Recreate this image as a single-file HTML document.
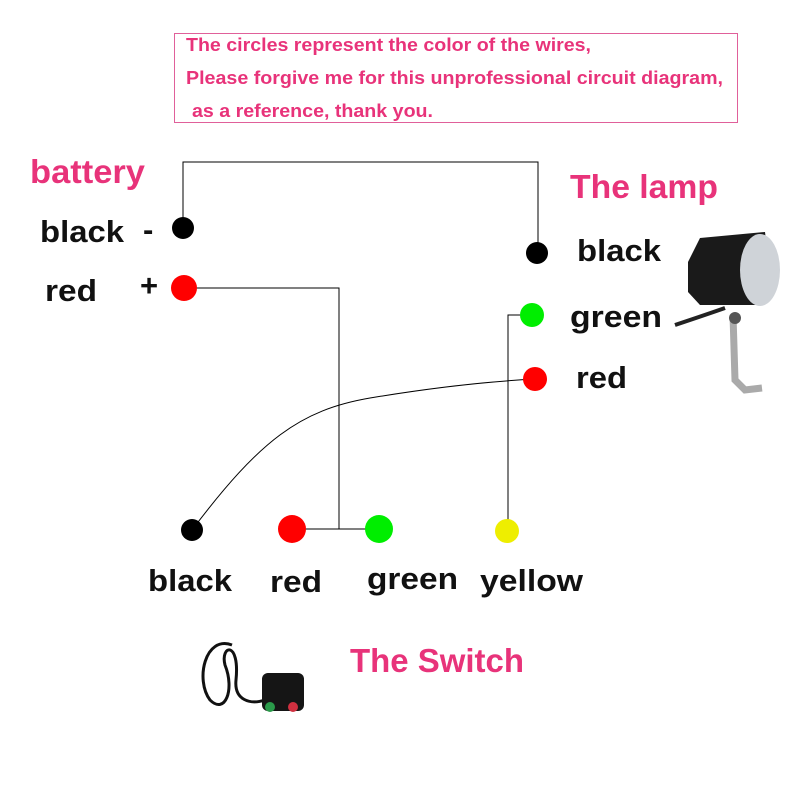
<!DOCTYPE html>
<html><head><meta charset="utf-8"><style>
html,body{margin:0;padding:0;background:#fff;}
svg{display:block}
text{font-family:"Liberation Sans",sans-serif;font-weight:bold;}
</style></head><body>
<svg width="800" height="800" viewBox="0 0 800 800" xmlns="http://www.w3.org/2000/svg">
<rect width="800" height="800" fill="#fff"/>
<rect x="174.5" y="33.5" width="563" height="89" fill="none" stroke="#e0609a" stroke-width="1"/>
<g fill="#e8337a" font-size="18">
<text x="186" y="51" textLength="405" lengthAdjust="spacingAndGlyphs">The circles represent the color of the wires,</text>
<text x="186" y="84" textLength="537" lengthAdjust="spacingAndGlyphs">Please forgive me for this unprofessional circuit diagram,</text>
<text x="192" y="117" textLength="241" lengthAdjust="spacingAndGlyphs">as a reference, thank you.</text>
</g>
<g fill="#e8337a" font-size="33">
<text x="30" y="183" textLength="115" lengthAdjust="spacingAndGlyphs">battery</text>
<text x="570" y="198" textLength="148" lengthAdjust="spacingAndGlyphs">The lamp</text>
<text x="350" y="672" textLength="174" lengthAdjust="spacingAndGlyphs">The Switch</text>
</g>
<g fill="#111" font-size="31">
<text x="40" y="242" textLength="84" lengthAdjust="spacingAndGlyphs">black</text>
<text x="143" y="240">-</text>
<text x="45" y="301" textLength="52" lengthAdjust="spacingAndGlyphs">red</text>
<text x="140" y="296">+</text>
<text x="577" y="261" textLength="84" lengthAdjust="spacingAndGlyphs">black</text>
<text x="570" y="327" textLength="92" lengthAdjust="spacingAndGlyphs">green</text>
<text x="576" y="388" textLength="51" lengthAdjust="spacingAndGlyphs">red</text>
<text x="148" y="591" textLength="84" lengthAdjust="spacingAndGlyphs">black</text>
<text x="270" y="592" textLength="52" lengthAdjust="spacingAndGlyphs">red</text>
<text x="367" y="589" textLength="91" lengthAdjust="spacingAndGlyphs">green</text>
<text x="480" y="591" textLength="103" lengthAdjust="spacingAndGlyphs">yellow</text>
</g>
<g fill="none" stroke="#000" stroke-width="1">
<polyline points="183,228 183,162 538,162 538,253"/>
<polyline points="184,288 339,288 339,529 378,529"/>
<line x1="292" y1="529" x2="339" y2="529"/>
<polyline points="532,315 508,315 508,530"/>
<path d="M192,530 C260,440 300,410 370,398 C430,388 480,382 535,379"/>
</g>
<circle cx="183" cy="228" r="11" fill="#000"/>
<circle cx="184" cy="288" r="13" fill="#f00"/>
<circle cx="537" cy="253" r="11" fill="#000"/>
<circle cx="532" cy="315" r="12" fill="#0e0"/>
<circle cx="535" cy="379" r="12" fill="#f00"/>
<circle cx="192" cy="530" r="11" fill="#000"/>
<circle cx="292" cy="529" r="14" fill="#f00"/>
<circle cx="379" cy="529" r="14" fill="#0e0"/>
<circle cx="507" cy="531" r="12" fill="#ee0"/>
<!-- lamp -->
<path d="M675,325 C690,320 705,315 725,308" stroke="#222" stroke-width="4" fill="none"/>
<path d="M733,315 L735,380 L745,390 L762,388" stroke="#aaa" stroke-width="7" fill="none"/>
<path d="M688,262 L700,238 L765,232 L772,290 L760,305 L700,305 L688,292 Z" fill="#1a1a1a"/>
<ellipse cx="760" cy="270" rx="20" ry="36" fill="#cfd3d8"/>
<circle cx="735" cy="318" r="6" fill="#555"/>
<!-- switch -->
<path d="M232,645 C205,635 195,680 210,700 C225,715 235,690 225,665 C220,645 240,640 236,680 C234,700 250,705 265,700" stroke="#111" stroke-width="3" fill="none"/>
<rect x="262" y="673" width="42" height="38" rx="6" fill="#151515"/>
<circle cx="270" cy="707" r="5" fill="#2a9a4a"/>
<circle cx="293" cy="707" r="5" fill="#d03040"/>
</svg>
</body></html>
